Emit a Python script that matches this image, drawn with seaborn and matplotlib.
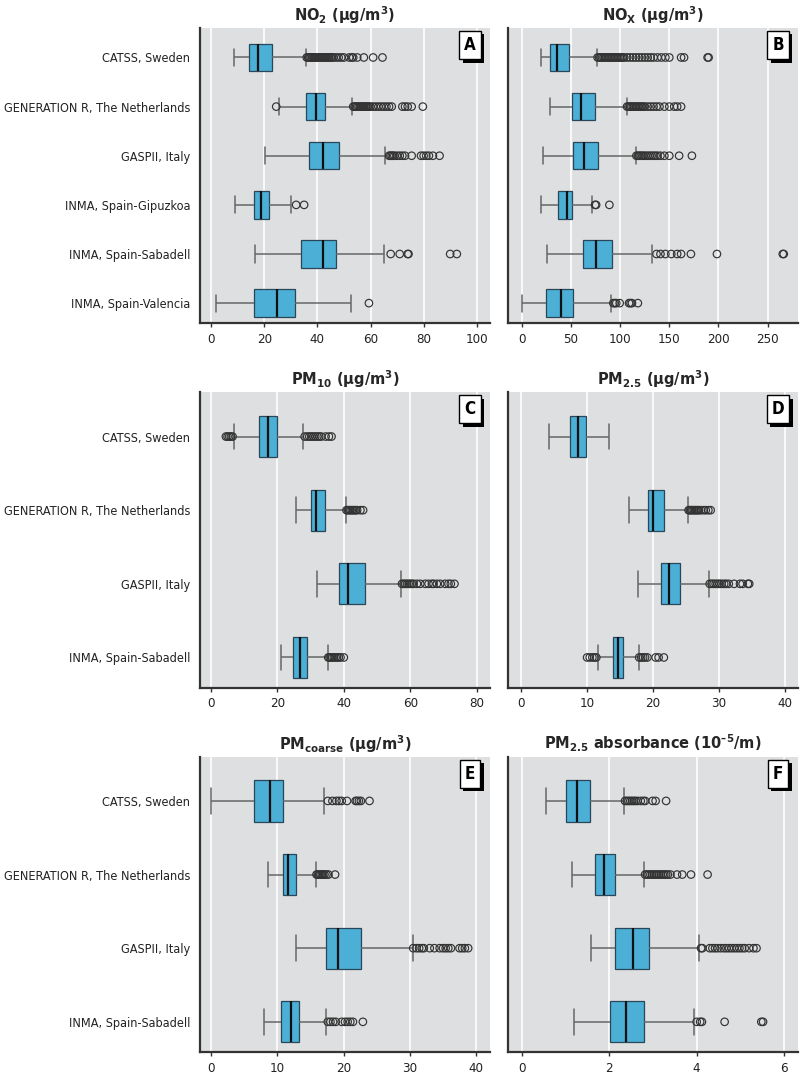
import numpy as np
import pandas as pd
import matplotlib
matplotlib.use("Agg")
import matplotlib.pyplot as plt
import matplotlib.patheffects as pe
from matplotlib import font_manager
import seaborn as sns

# =========================
# DATA
# =========================

cohorts6 = ["CATSS, Sweden", "GENERATION R, The Netherlands", "GASPII, Italy",
            "INMA, Spain-Gipuzkoa", "INMA, Spain-Sabadell", "INMA, Spain-Valencia"]
cohorts4 = ["CATSS, Sweden", "GENERATION R, The Netherlands", "GASPII, Italy",
            "INMA, Spain-Sabadell"]

# NO2
no2_lo = [8.6, 25.6, 20.1, 8.8, 16.4, 1.9]
no2_q1 = [14.1, 35.9, 36.7, 16.0, 33.8, 16.0]
no2_med = [17.8, 39.3, 42.2, 18.7, 42.2, 24.7]
no2_q3 = [22.9, 42.8, 48.2, 21.7, 47.0, 31.6]
no2_hi = [35.7, 53.2, 65.4, 30.0, 65.0, 52.5]
no2_out = [
    [36, 36.5, 37, 37.5, 38, 38.5, 39, 39.5, 40, 40.5, 41, 41.5, 42, 42.5, 43, 43.5,
     44, 44.5, 45, 45.5, 46, 47, 48, 49, 50, 52, 53, 53.5, 55, 57.5, 61, 64.5],
    [24.5, 53.5, 54, 54.5, 55, 55.5, 56, 56.5, 57, 57.5, 58, 58.5, 59, 59.5, 60, 61,
     62, 63, 64, 65, 66, 67, 68, 72, 73, 74, 75.5, 79.7],
    [67, 67.5, 68, 68.5, 69, 70, 71, 72, 73, 75.5, 79, 80, 81, 82, 83.5, 86],
    [32, 35],
    [67.6, 71, 74, 74.3, 90, 92.5],
    [59.4],
]

# NOx
nox_lo = [19.2, 28.6, 21.9, 18.9, 25.6, 0.3]
nox_q1 = [28.3, 50.9, 51.9, 36.7, 61.7, 24.6]
nox_med = [36.0, 60.3, 63.3, 45.8, 75.1, 39.4]
nox_q3 = [47.8, 74.1, 77.8, 50.9, 91.3, 52.2]
nox_hi = [76.5, 106.8, 116.2, 71.4, 132.7, 90.6]
nox_out = [
    [77, 78.5, 80, 81.5, 83, 84.5, 86, 87.5, 89, 90.5, 92, 93.5, 95, 96.5, 98, 99.5,
     101, 102.5, 104, 107, 110, 113, 116, 119, 122, 125, 128, 131, 134, 138, 142,
     146, 150, 162, 165, 189, 190],
    [107, 108.5, 110, 111.5, 113, 114.5, 116, 117.5, 119, 120.5, 122, 123.5, 125,
     128, 131, 134, 137, 140, 145, 150, 155, 158, 162],
    [116.5, 118, 119.5, 121, 122.5, 124, 126, 128, 130, 132, 134, 136, 138, 141,
     145, 150, 160, 173],
    [74.4, 75.5, 89],
    [137, 141, 146, 152, 158, 162, 172, 198.5, 265.5, 266.5],
    [93, 94.5, 96, 99.5, 109, 110.5, 112, 118],
]

# PM10
pm10_lo = [7.0, 25.7, 32.0, 21.0]
pm10_q1 = [14.6, 30.0, 38.5, 24.6]
pm10_med = [17.2, 31.6, 41.2, 26.7]
pm10_q3 = [19.8, 34.3, 46.3, 28.8]
pm10_hi = [27.7, 40.6, 57.3, 35.1]
pm10_out = [
    [4.5, 5, 5.5, 6, 6.5, 28.2, 29, 29.6, 30.2, 30.8, 31.4, 32, 32.6, 33.2, 34.5,
     35.5, 36.3],
    [40.8, 41.2, 41.6, 42, 42.4, 42.8, 43.2, 43.6, 44, 45, 45.8],
    [57.5, 58, 58.5, 59, 59.5, 60, 60.5, 61, 62, 63, 64.5, 65.5, 66.5, 67, 68, 69,
     70.5, 71.5, 72.2, 73.3],
    [35.3, 35.7, 36.1, 36.5, 37, 37.5, 38, 38.5, 39, 40],
]

# PM2.5
pm25_lo = [4.15, 16.4, 17.8, 11.6]
pm25_q1 = [7.35, 19.2, 21.15, 13.95]
pm25_med = [8.6, 20.0, 22.4, 14.7]
pm25_q3 = [9.8, 21.65, 24.15, 15.5]
pm25_hi = [13.35, 25.35, 28.5, 17.9]
pm25_out = [
    [],
    [25.4, 25.6, 25.8, 26, 26.2, 26.4, 26.6, 26.8, 27, 27.3, 27.7, 28, 28.4, 28.75],
    [28.6, 28.9, 29.2, 29.5, 29.8, 30.1, 30.4, 30.8, 31.1, 31.5, 32.3, 33.2, 33.6,
     34.4, 34.6],
    [10.0, 10.4, 10.8, 11.1, 11.4, 17.9, 18.2, 18.5, 18.8, 19.15, 20.4, 20.85, 21.65],
]

# PMcoarse
pmc_lo = [0.0, 8.5, 12.8, 8.0]
pmc_q1 = [6.4, 10.8, 17.3, 10.5]
pmc_med = [8.8, 11.6, 19.1, 12.1]
pmc_q3 = [10.8, 12.8, 22.6, 13.3]
pmc_hi = [17.1, 15.8, 30.4, 17.4]
pmc_out = [
    [17.6, 18.3, 18.9, 19.3, 19.7, 20.5, 21.8, 22.0, 22.3, 22.6, 23.9],
    [15.9, 16.1, 16.3, 16.5, 16.7, 16.9, 17.1, 17.4, 17.7, 18.7],
    [30.5, 31, 31.4, 31.8, 32.1, 33, 33.7, 34.5, 35, 35.4, 35.8, 36.2, 37.5, 37.9,
     38.3, 38.8],
    [17.6, 18, 18.4, 18.8, 19.7, 20.2, 20.6, 21, 21.4, 22.9],
]

# PM2.5 absorbance
abs_lo = [0.54, 1.15, 1.59, 1.2]
abs_q1 = [1.0, 1.68, 2.12, 2.01]
abs_med = [1.26, 1.88, 2.55, 2.39]
abs_q3 = [1.55, 2.13, 2.91, 2.8]
abs_hi = [2.34, 2.8, 4.05, 3.95]
abs_out = [
    [2.36, 2.4, 2.44, 2.48, 2.52, 2.56, 2.6, 2.65, 2.72, 2.78, 2.82, 2.99, 3.06, 3.3],
    [2.82, 2.86, 2.9, 2.94, 2.98, 3.02, 3.06, 3.1, 3.14, 3.18, 3.22, 3.26, 3.3, 3.34,
     3.4, 3.55, 3.67, 3.87, 4.25],
    [4.1, 4.13, 4.3, 4.36, 4.42, 4.48, 4.55, 4.62, 4.68, 4.74, 4.8, 4.86, 4.92, 4.98,
     5.04, 5.1, 5.2, 5.3, 5.37],
    [4.0, 4.08, 4.12, 4.64, 5.48, 5.52],
]

# =========================
# STYLE
# =========================

sns.set_theme(style="ticks")

# pick a narrow sans font if one is installed (reference uses a condensed face)
fonts = font_manager.fontManager.ttflist
names = {f.name for f in fonts}
condensed = {f.name for f in fonts if str(f.stretch) in ("condensed", "semi-condensed", "75", "87")}
if "Liberation Sans Narrow" in names:
    FONT, STRETCH, SCALE = "Liberation Sans Narrow", "normal", 1.0
elif "DejaVu Sans" in condensed:
    FONT, STRETCH, SCALE = "DejaVu Sans", "condensed", 0.87
elif "Roboto Condensed" in names:
    FONT, STRETCH, SCALE = "Roboto Condensed", "normal", 1.0
else:
    FONT, STRETCH, SCALE = "Liberation Sans", "normal", 0.82

plt.rcParams["font.family"] = [FONT, "DejaVu Sans"]
plt.rcParams["font.stretch"] = STRETCH
plt.rcParams["mathtext.fontset"] = "custom"
plt.rcParams["mathtext.rm"] = FONT
plt.rcParams["mathtext.bf"] = FONT + ":bold"
plt.rcParams["mathtext.default"] = "bf"

BG = "#dddfe0"
BOX = "#4bafd6"
EDGE = "#2a4658"
WHISK = "#666666"
SPINE = "#333333"

panels = [
    ("NO$_2$ (μg/m$^3$)", "A", cohorts6, no2_lo, no2_q1, no2_med, no2_q3, no2_hi,
     no2_out, (-4.2, 105), [0, 20, 40, 60, 80, 100]),
    ("NO$_X$ (μg/m$^3$)", "B", cohorts6, nox_lo, nox_q1, nox_med, nox_q3, nox_hi,
     nox_out, (-14.2, 281), [0, 50, 100, 150, 200, 250]),
    ("PM$_{10}$ (μg/m$^3$)", "C", cohorts4, pm10_lo, pm10_q1, pm10_med, pm10_q3,
     pm10_hi, pm10_out, (-3.3, 84), [0, 20, 40, 60, 80]),
    ("PM$_{2.5}$ (μg/m$^3$)", "D", cohorts4, pm25_lo, pm25_q1, pm25_med, pm25_q3,
     pm25_hi, pm25_out, (-2.0, 42), [0, 10, 20, 30, 40]),
    ("PM$_{coarse}$ (μg/m$^3$)", "E", cohorts4, pmc_lo, pmc_q1, pmc_med, pmc_q3,
     pmc_hi, pmc_out, (-1.7, 42.1), [0, 10, 20, 30, 40]),
    ("PM$_{2.5}$ absorbance (10$^{–5}$/m)", "F", cohorts4, abs_lo, abs_q1, abs_med,
     abs_q3, abs_hi, abs_out, (-0.32, 6.32), [0, 2, 4, 6]),
]

# =========================
# PLOT
# =========================

fig, axes = plt.subplots(3, 2, figsize=(8, 10.77), dpi=100)
fig.subplots_adjust(left=0.25, right=0.9975, top=0.974, bottom=0.0232,
                    wspace=0.062, hspace=0.234)

for i, (ax, p) in enumerate(zip(axes.ravel(), panels)):
    title, letter, cohorts, lo, q1, med, q3, hi, out, xlim, xticks = p

    box_df = pd.DataFrame({
        "cohort": np.repeat(cohorts, 5),
        "value": np.column_stack([lo, q1, med, q3, hi]).ravel(),
    })
    out_df = pd.DataFrame({
        "cohort": [c for c, vals in zip(cohorts, out) for v in vals],
        "value": [v for vals in out for v in vals],
    })

    sns.boxplot(
        data=box_df, x="value", y="cohort", order=cohorts,
        whis=(0, 100), width=0.56, color=BOX, saturation=1,
        linecolor=EDGE, linewidth=0.9, showfliers=False,
        whiskerprops={"color": WHISK, "linewidth": 1.1},
        capprops={"color": WHISK, "linewidth": 1.1},
        medianprops={"color": "#111111", "linewidth": 1.6},
        capwidths=0.35,
        ax=ax
    )
    sns.stripplot(
        data=out_df, x="value", y="cohort", order=cohorts,
        jitter=False, size=5.4, marker="o", facecolors="none",
        edgecolor="#333333", linewidth=0.85, ax=ax
    )

    n = len(cohorts)
    ax.set_facecolor(BG)
    ax.set_xlim(*xlim)
    ax.set_xticks(xticks)
    ax.set_ylim(n - 1 + 0.41, -0.6)
    ax.grid(axis="x", color="white", linewidth=1.2)
    ax.set_axisbelow(True)
    ax.set_xlabel("")
    ax.set_ylabel("")
    for side in ["top", "right"]:
        ax.spines[side].set_visible(False)
    for side in ["left", "bottom"]:
        ax.spines[side].set_color(SPINE)
        ax.spines[side].set_linewidth(1.6)
    ax.tick_params(axis="x", length=3, width=1, color=SPINE, pad=4,
                   labelsize=11 * SCALE, labelcolor="#222222")
    ax.tick_params(axis="y", length=0, pad=7, labelsize=10.4 * SCALE,
                   labelcolor="#222222")
    if i % 2 == 1:
        ax.tick_params(axis="y", labelleft=False)

    ax.set_title(title, fontsize=13.5 * SCALE, fontweight="bold", pad=5)

    # panel letter in a box with a drop shadow
    t = ax.annotate(
        letter, xy=(1, 1), xycoords="axes fraction",
        xytext=(-20, -17), textcoords="offset pixels",
        ha="center", va="center", fontsize=14 * SCALE, fontweight="bold",
        color="black",
        bbox=dict(boxstyle="square,pad=0.3", fc="white", ec="black", lw=1)
    )
    t.get_bbox_patch().set_path_effects([
        pe.withSimplePatchShadow(offset=(2.5, -2.5), shadow_rgbFace="black", alpha=1),
    ])

plt.savefig("out.png", dpi=100)
